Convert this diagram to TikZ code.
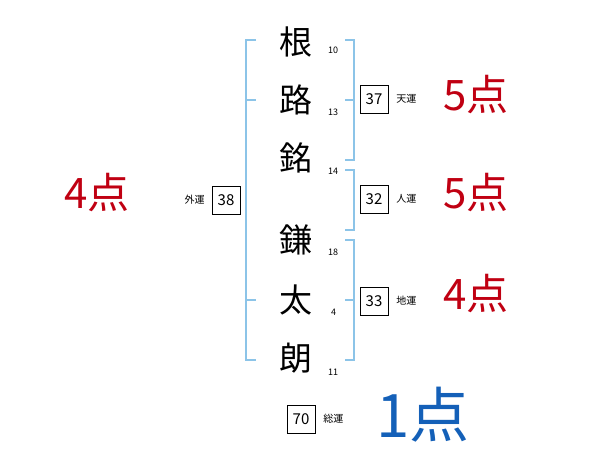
\documentclass[tikz,border=0pt]{standalone}
\usepackage{fontspec}
\setmainfont{Noto Sans CJK JP}
\usetikzlibrary{positioning}
\definecolor{bracketblue}{HTML}{8CC4E8}
\definecolor{scorered}{HTML}{C00012}
\definecolor{scoreblue}{HTML}{1460B8}
\begin{document}
\begin{tikzpicture}[x=1pt, y=-1pt,
  kanji/.style={inner sep=0pt,font=\fontsize{33}{33}\selectfont},
  strokes/.style={inner sep=0pt,anchor=west,font=\fontsize{9}{9}\selectfont},
  unbox/.style={draw,minimum width=28pt,minimum height=28pt,inner sep=0pt,font=\fontsize{15}{15}\selectfont},
  unlabel/.style={inner sep=0pt,font=\fontsize{10}{10}\selectfont},
  score/.style={inner sep=0pt,text=scorered,font=\fontsize{42}{42}\selectfont},
  bracket/.style={draw=bracketblue, line width=1.3pt}]
\useasboundingbox (0,0) rectangle (600,470);
% name characters
\node[kanji] (k1) at (296,42) {根};
\node[kanji] (k2) at (296,100) {路};
\node[kanji] (k3) at (296,158) {銘};
\node[kanji] (k4) at (296,240) {鎌};
\node[kanji] (k5) at (296,300) {太};
\node[kanji] (k6) at (296,358) {朗};
\node[strokes] (s1) at (328,50) {10};
\node[strokes] (s2) at (328,112) {13};
\node[strokes] (s3) at (328,171) {14};
\node[strokes] (s4) at (328,252) {18};
\node[strokes] (s5) at (331,312) {4};
\node[strokes] (s6) at (328,372) {11};
% brackets
\draw[bracket] (256,40) -- (246,40) -- (246,360) -- (256,360);
\draw[bracket] (246,100) -- (256,100);
\draw[bracket] (246,300) -- (256,300);
\draw[bracket] (345,40) -- (354,40) -- (354,160) -- (345,160);
\draw[bracket] (345,100) -- (354,100);
\draw[bracket] (345,170) -- (354,170) -- (354,230) -- (345,230);
\draw[bracket] (345,240) -- (354,240) -- (354,360) -- (345,360);
\draw[bracket] (345,300) -- (354,300);
% luck boxes
\node[unbox] (ten) at (374,99) {37};
\node[unlabel, right=8pt of ten] (tenl) {天運};
\node[unbox] (jin) at (374,199) {32};
\node[unlabel, right=8pt of jin] (jinl) {人運};
\node[unbox] (chi) at (374,301) {33};
\node[unlabel, right=8pt of chi] (chil) {地運};
\node[unbox] (gai) at (226,200) {38};
\node[unlabel, left=7pt of gai] (gail) {外運};
\node[unbox] (sou) at (301,419) {70};
\node[unlabel, right=8pt of sou] (soul) {総運};
% scores
\node[score] (p1) at (476,95) {5点};
\node[score] (p2) at (476,193) {5点};
\node[score] (p3) at (476,294) {4点};
\node[score] (p4) at (97,193) {4点};
\node[score, text=scoreblue, font=\fontsize{60}{60}\selectfont] (p5) at (423,415) {1点};
\end{tikzpicture}
\end{document}
